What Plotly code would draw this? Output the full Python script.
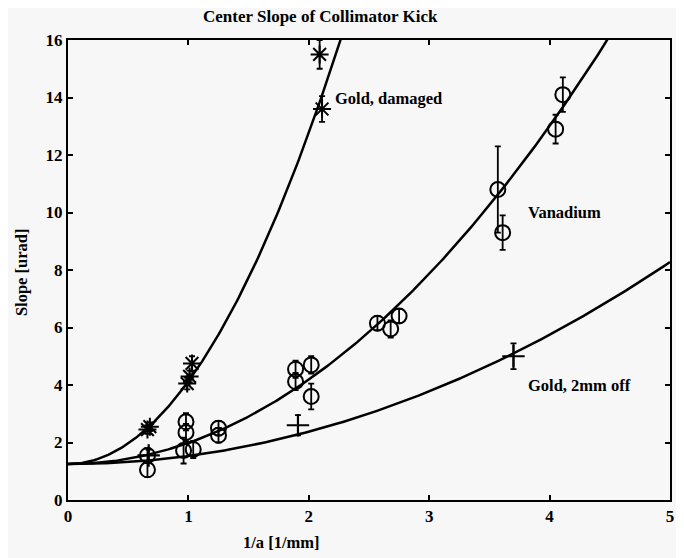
import numpy as np
import plotly.graph_objects as go

# ---- data ----
gold_dmg_x = [0.66, 0.68, 0.99, 1.01, 1.03, 2.09, 2.11]
gold_dmg_y = [2.45, 2.55, 4.05, 4.30, 4.75, 15.5, 13.6]
gold_dmg_err = [0.15, 0.15, 0.2, 0.2, 0.25, 0.5, 0.45]

van_x = [0.66, 0.66, 0.98, 0.98, 0.96, 1.04, 1.25, 1.25, 1.89, 1.89, 2.02, 2.02,
         2.57, 2.68, 2.75, 3.57, 3.61, 4.05, 4.11]
van_y = [1.55, 1.05, 2.72, 2.35, 1.72, 1.76, 2.50, 2.25, 4.55, 4.12, 4.70, 3.60,
         6.15, 5.95, 6.40, 10.8, 9.30, 12.9, 14.1]
van_err = [0.25, 0.25, 0.3, 0.3, 0.45, 0.3, 0.25, 0.25, 0.3, 0.3, 0.3, 0.45,
           0.25, 0.3, 0.25, 1.5, 0.6, 0.5, 0.6]

gold_off_x = [0.67, 1.91, 3.70]
gold_off_y = [1.55, 2.60, 5.00]
gold_off_err = [0.2, 0.35, 0.45]

# quadratic fit parameters: y = fit_a + b * x^2
fit_a = 1.25
fit_b_gold_dmg = 2.88
fit_b_van = 0.735
fit_b_gold_off = 0.281

x_ticks = [0, 1, 2, 3, 4, 5]
y_ticks = [0, 2, 4, 6, 8, 10, 12, 14, 16]

FONT = "Liberation Serif"
xs = np.linspace(0, 5, 301)

fig = go.Figure()

for b in [fit_b_gold_dmg, fit_b_van, fit_b_gold_off]:
    fig.add_trace(go.Scatter(x=xs, y=fit_a + b * xs**2, mode="lines",
                             line=dict(color="black", width=2.5),
                             showlegend=False, hoverinfo="skip"))

err_style = dict(type="data", visible=True, color="black", thickness=1.8, width=3)

fig.add_trace(go.Scatter(x=gold_dmg_x, y=gold_dmg_y, mode="markers",
                         error_y=dict(array=gold_dmg_err, **err_style),
                         marker=dict(symbol="asterisk-open", size=15, color="black",
                                     line=dict(color="black", width=2)),
                         showlegend=False))
fig.add_trace(go.Scatter(x=van_x, y=van_y, mode="markers",
                         error_y=dict(array=van_err, **err_style),
                         marker=dict(symbol="circle-open", size=15, color="black",
                                     line=dict(color="black", width=2)),
                         showlegend=False))
fig.add_trace(go.Scatter(x=gold_off_x, y=gold_off_y, mode="markers",
                         error_y=dict(array=gold_off_err, **err_style),
                         marker=dict(symbol="cross-thin-open", size=16, color="black",
                                     line=dict(color="black", width=2.2)),
                         showlegend=False))

lab_font = dict(family=FONT, size=16.5, color="black", weight="bold")
for txt, x, y in [("Gold, damaged", 2.2, 13.95),
                  ("Vanadium", 3.8, 10.0),
                  ("Gold, 2mm off", 3.8, 3.97)]:
    fig.add_annotation(x=x, y=y, text=txt, showarrow=False, xanchor="left",
                       yanchor="middle", font=lab_font)

fig.add_annotation(xref="paper", yref="paper", x=0.419, y=1.05,
                   text="Center Slope of Collimator Kick", showarrow=False,
                   xanchor="center", yanchor="middle",
                   font=dict(family=FONT, size=17, color="black", weight="bold"))
fig.add_annotation(xref="paper", yref="paper", x=0.355, y=-0.093,
                   text="1/a [1/mm]", showarrow=False,
                   xanchor="center", yanchor="middle", font=lab_font)
fig.add_annotation(xref="paper", yref="paper", x=-0.076, y=0.496,
                   text="Slope [urad]", showarrow=False, textangle=-90,
                   xanchor="center", yanchor="middle", font=lab_font)

axis_common = dict(showline=True, linecolor="black", linewidth=2, mirror="ticks",
                   ticks="inside", ticklen=5, tickwidth=1.5, tickcolor="black",
                   showgrid=False, zeroline=False, automargin=False,
                   tickfont=dict(family=FONT, size=17, color="black", weight="bold"))

fig.update_xaxes(range=[0, 5], tickvals=x_ticks, **axis_common)
fig.update_yaxes(range=[0, 16], tickvals=y_ticks, **axis_common)

# page body adds an 8px offset, so the figure is sized to fit inside the window
fig.update_layout(width=676, height=550,
                  margin=dict(l=60, r=14, t=32, b=58),
                  paper_bgcolor="#f7f7f7", plot_bgcolor="#f7f7f7",
                  showlegend=False)

fig.write_html("out.html")
